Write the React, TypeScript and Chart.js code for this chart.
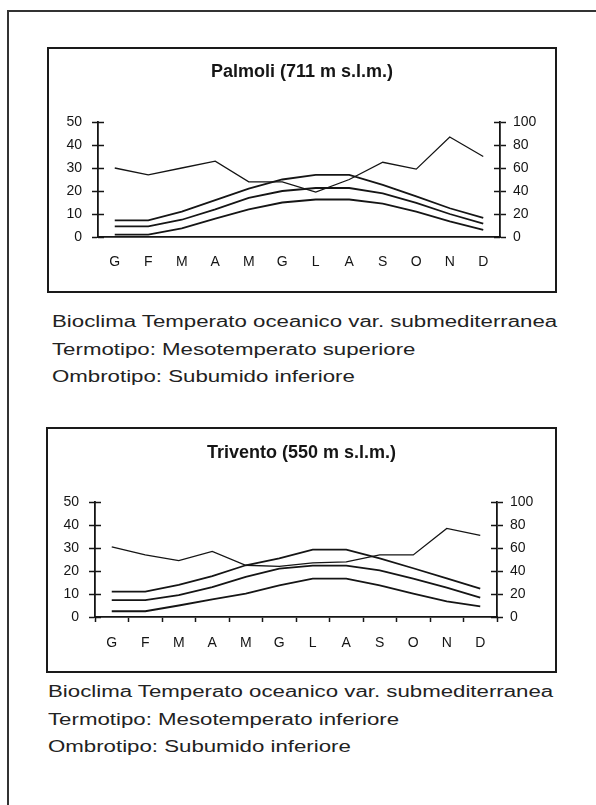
import React, { useEffect, useRef } from 'react';
import { Chart, registerables } from 'chart.js';

Chart.register(...registerables);

// ---- data ----
const months = ['G', 'F', 'M', 'A', 'M', 'G', 'L', 'A', 'S', 'O', 'N', 'D'];

const palmoliTitle = 'Palmoli (711 m s.l.m.)';
const palmoliTmax = [7.2, 7.2, 11, 16, 21, 25, 27, 27, 22.7, 17.7, 12.5, 8.3];
const palmoliTmean = [4.6, 4.6, 7.5, 12, 17, 20, 21.3, 21.3, 19, 14.8, 10, 5.8];
const palmoliTmin = [1.0, 1.0, 3.8, 8, 12, 15, 16.3, 16.3, 14.5, 11, 6.8, 3.1];
const palmoliPrecip = [60, 54, 60, 66, 48, 48, 39, 50, 65, 59, 87, 70];
const palmoliNotes = [
  'Bioclima Temperato oceanico var. submediterranea',
  'Termotipo: Mesotemperato superiore',
  'Ombrotipo: Subumido inferiore',
];

const triventoTitle = 'Trivento (550 m s.l.m.)';
const triventoTmax = [11, 11, 14, 17.8, 22.5, 25.5, 29.3, 29.3, 25.5, 21.2, 16.8, 12.3];
const triventoTmean = [7.3, 7.3, 9.5, 13, 17.4, 21, 22.3, 22.3, 20.3, 16.7, 12.8, 8.4];
const triventoTmin = [2.5, 2.5, 5, 7.7, 10.2, 13.8, 16.7, 16.7, 13.8, 10.2, 6.8, 4.6];
const triventoPrecip = [61, 54, 49, 57, 45, 44, 47, 48, 54, 54, 77, 71];
const triventoNotes = [
  'Bioclima Temperato oceanico var. submediterranea',
  'Termotipo: Mesotemperato inferiore',
  'Ombrotipo: Subumido inferiore',
];

const tempMax = 50;
const tempStep = 10;
const precipMax = 100;
const precipStep = 20;

const FONT = '"Liberation Sans", Arial, sans-serif';
const INK = '#151515';

const crossTicks = {
  id: 'crossTicks',
  afterDraw(chart: any) {
    const ctx = chart.ctx;
    ctx.save();
    ctx.strokeStyle = INK;
    ctx.lineWidth = 1.5;
    const y = chart.scales.y;
    const y1 = chart.scales.y1;
    y.ticks.forEach((_t: any, i: number) => {
      const py = Math.round(y.getPixelForTick(i)) + 0.5;
      ctx.beginPath();
      ctx.moveTo(y.right, py);
      ctx.lineTo(y.right + 6, py);
      ctx.stroke();
    });
    y1.ticks.forEach((_t: any, i: number) => {
      const py = Math.round(y1.getPixelForTick(i)) + 0.5;
      ctx.beginPath();
      ctx.moveTo(y1.left, py);
      ctx.lineTo(y1.left - 6, py);
      ctx.stroke();
    });
    ctx.restore();
  },
};

type ClimaProps = {
  title: string;
  tmax: number[];
  tmean: number[];
  tmin: number[];
  precip: number[];
  w: number;
  h: number;
  leftW: number;
  rightW: number;
  bottomH: number;
  titleTop: number;
  titleBottom: number;
  xPad: number;
  showXTicks: boolean;
};

function ClimaChart(p: ClimaProps) {
  const ref = useRef<HTMLCanvasElement>(null);
  useEffect(() => {
    if (!ref.current) return;
    const tempLine = (data: number[]) => ({
      data,
      yAxisID: 'y',
      borderColor: INK,
      borderWidth: 1.8,
      pointRadius: 0,
      tension: 0,
      fill: false,
    });
    const chart = new Chart(ref.current, {
      type: 'line',
      data: {
        labels: months,
        datasets: [
          { ...tempLine(p.tmax), label: 'T max' },
          { ...tempLine(p.tmean), label: 'T media' },
          { ...tempLine(p.tmin), label: 'T min' },
          {
            label: 'P',
            data: p.precip,
            yAxisID: 'y1',
            borderColor: INK,
            borderWidth: 1.3,
            pointRadius: 0,
            tension: 0,
            fill: false,
          },
        ],
      },
      options: {
        animation: false,
        responsive: false,
        devicePixelRatio: 1,
        layout: { padding: 0 },
        plugins: {
          legend: { display: false },
          tooltip: { enabled: false },
          title: {
            display: true,
            text: p.title,
            color: INK,
            font: { family: FONT, size: 18, weight: 'bold' },
            padding: { top: p.titleTop, bottom: p.titleBottom },
          },
        },
        scales: {
          x: {
            offset: true,
            grid: {
              display: true,
              drawOnChartArea: false,
              offset: true,
              drawTicks: true,
              tickLength: 5,
              tickColor: p.showXTicks ? INK : 'rgba(0,0,0,0)',
              tickWidth: 1.5,
            },
            border: { display: true, color: INK, width: 1.8 },
            ticks: {
              color: INK,
              font: { family: FONT, size: 14 },
              padding: p.xPad,
              maxRotation: 0,
              autoSkip: false,
            },
            afterFit: (s: any) => {
              s.height = p.bottomH;
            },
          },
          y: {
            position: 'left',
            min: 0,
            max: tempMax,
            grid: {
              drawOnChartArea: false,
              drawTicks: true,
              tickLength: 6,
              tickColor: INK,
              tickWidth: 1.5,
            },
            border: { display: true, color: INK, width: 1.8 },
            ticks: {
              stepSize: tempStep,
              color: INK,
              font: { family: FONT, size: 14 },
              padding: 10,
            },
            afterFit: (s: any) => {
              s.width = p.leftW;
            },
          },
          y1: {
            position: 'right',
            min: 0,
            max: precipMax,
            grid: {
              drawOnChartArea: false,
              drawTicks: true,
              tickLength: 6,
              tickColor: INK,
              tickWidth: 1.5,
            },
            border: { display: true, color: INK, width: 1.8 },
            ticks: {
              stepSize: precipStep,
              color: INK,
              font: { family: FONT, size: 14 },
              padding: 7,
            },
            afterFit: (s: any) => {
              s.width = p.rightW;
            },
          },
        },
      },
      plugins: [crossTicks],
    } as any);
    return () => chart.destroy();
  }, []);
  return (
    <canvas
      ref={ref}
      width={p.w}
      height={p.h}
      style={{ display: 'block', width: p.w, height: p.h }}
    />
  );
}

function Notes({ lines, left, top }: { lines: string[]; left: number; top: number }) {
  return (
    <div
      style={{
        position: 'absolute',
        left,
        top,
        fontFamily: FONT,
        fontSize: 16,
        lineHeight: '27.5px',
        color: '#222',
        whiteSpace: 'pre',
        transform: 'scaleX(1.39)',
        transformOrigin: '0 0',
      }}
    >
      {lines.map((l, i) => (
        <div key={i}>{l}</div>
      ))}
    </div>
  );
}

export default function App() {
  return (
    <div
      style={{
        position: 'fixed',
        left: 0,
        top: 0,
        width: 596,
        height: 805,
        background: '#fff',
        overflow: 'hidden',
      }}
    >
      {/* page border */}
      <div style={{ position: 'absolute', left: 7, top: 10, width: 589, height: 2, background: '#333' }} />
      <div style={{ position: 'absolute', left: 7, top: 10, width: 2, height: 795, background: '#333' }} />

      {/* Palmoli */}
      <div
        style={{
          position: 'absolute',
          left: 47,
          top: 47,
          width: 510,
          height: 246,
          border: '2px solid #1a1a1a',
          boxSizing: 'border-box',
          background: '#fff',
        }}
      >
        <ClimaChart
          title={palmoliTitle}
          tmax={palmoliTmax}
          tmean={palmoliTmean}
          tmin={palmoliTmin}
          precip={palmoliPrecip}
          w={506}
          h={242}
          leftW={49}
          rightW={55}
          bottomH={54}
          titleTop={12.2}
          titleBottom={39.2}
          xPad={12}
          showXTicks={false}
        />
      </div>
      <Notes lines={palmoliNotes} left={52} top={308} />

      {/* Trivento */}
      <div
        style={{
          position: 'absolute',
          left: 46,
          top: 427,
          width: 511,
          height: 246,
          border: '2px solid #1a1a1a',
          boxSizing: 'border-box',
          background: '#fff',
        }}
      >
        <ClimaChart
          title={triventoTitle}
          tmax={triventoTmax}
          tmean={triventoTmean}
          tmin={triventoTmin}
          precip={triventoPrecip}
          w={507}
          h={242}
          leftW={47}
          rightW={58}
          bottomH={54}
          titleTop={13.2}
          titleBottom={38.2}
          xPad={13}
          showXTicks={true}
        />
      </div>
      <Notes lines={triventoNotes} left={48} top={678} />
    </div>
  );
}
